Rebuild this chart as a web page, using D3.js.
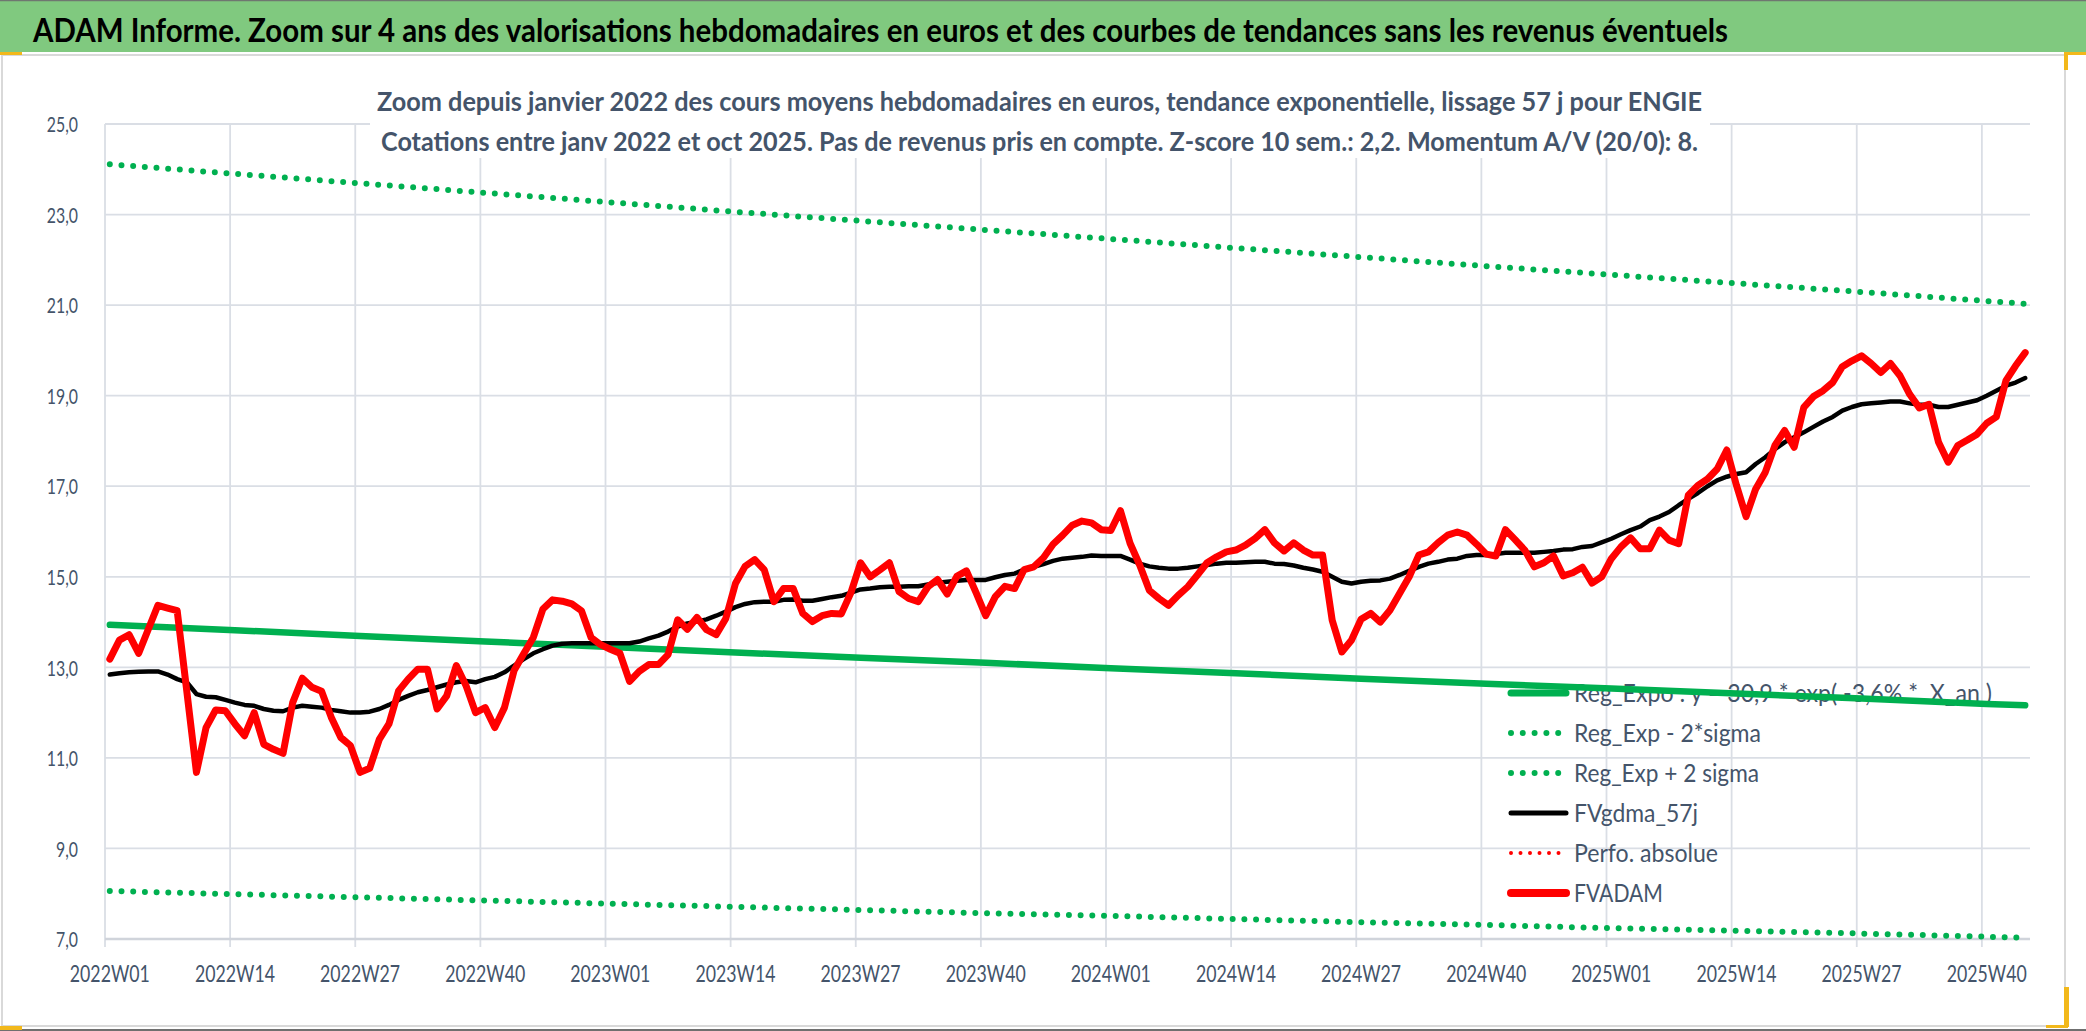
<!DOCTYPE html>
<html><head><meta charset="utf-8">
<script src="https://cdn.jsdelivr.net/npm/d3@7"></script>
<style>html,body{margin:0;padding:0;background:#fff;overflow:hidden}text{white-space:pre}</style>
</head><body><svg id="c" width="2086" height="1031"></svg>
<script>
// ---------- DATA ----------
const years = [2022, 2023, 2024, 2025];
const weeksPerYear = 52;
const nWeeks = 200; // 2022W01 .. 2025W44
const categories = [];
years.forEach(y => { for (let w = 1; w <= weeksPerYear; w++) categories.push(y + "W" + String(w).padStart(2, "0")); });
categories.length = nWeeks;

const fvadam = [13.18,13.6,13.72,13.31,13.84,14.37,14.31,14.25,12.47,10.68,
11.67,12.06,12.04,11.75,11.49,12.0,11.3,11.19,11.1,12.22,
12.76,12.56,12.47,11.9,11.45,11.27,10.68,10.77,11.41,11.75,
12.48,12.74,12.96,12.96,12.08,12.37,13.04,12.6,12.0,12.11,
11.67,12.11,12.93,13.3,13.66,14.29,14.49,14.46,14.4,14.25,
13.66,13.5,13.4,13.31,12.69,12.91,13.06,13.06,13.28,14.05,
13.84,14.1,13.83,13.72,14.08,14.85,15.23,15.38,15.15,14.45,
14.74,14.74,14.19,14.01,14.14,14.19,14.18,14.65,15.31,15.0,
15.15,15.31,14.67,14.52,14.45,14.78,14.94,14.62,15.01,15.13,
14.65,14.14,14.56,14.79,14.74,15.16,15.22,15.42,15.72,15.92,
16.14,16.23,16.19,16.04,16.02,16.46,15.74,15.26,14.7,14.52,
14.37,14.59,14.78,15.04,15.31,15.44,15.55,15.59,15.7,15.85,
16.04,15.75,15.57,15.75,15.59,15.48,15.48,14.04,13.34,13.6,
14.06,14.19,14.0,14.26,14.63,15.0,15.48,15.55,15.75,15.92,
15.99,15.92,15.72,15.5,15.46,16.04,15.82,15.59,15.22,15.31,
15.46,15.02,15.09,15.21,14.86,15.0,15.4,15.66,15.86,15.62,
15.62,16.03,15.81,15.73,16.8,17.02,17.16,17.38,17.8,17.02,
16.33,16.94,17.31,17.9,18.23,17.86,18.74,18.98,19.11,19.29,
19.64,19.77,19.88,19.71,19.51,19.71,19.44,19.03,18.73,18.81,
17.97,17.53,17.9,18.02,18.15,18.39,18.53,19.33,19.66,19.95];

const fvgdma = [12.84,12.87,12.89,12.9,12.91,12.91,12.84,12.74,12.67,12.41,
12.35,12.34,12.28,12.22,12.17,12.15,12.08,12.04,12.03,12.11,
12.15,12.13,12.11,12.06,12.03,12.0,12.0,12.02,12.08,12.17,
12.28,12.37,12.45,12.5,12.56,12.62,12.67,12.7,12.67,12.74,
12.79,12.89,13.04,13.18,13.31,13.4,13.48,13.52,13.53,13.53,
13.53,13.53,13.53,13.53,13.53,13.57,13.64,13.7,13.79,13.9,
13.97,14.01,14.06,14.14,14.23,14.33,14.4,14.44,14.45,14.45,
14.49,14.5,14.47,14.47,14.51,14.55,14.58,14.65,14.72,14.74,
14.77,14.78,14.78,14.79,14.79,14.83,14.87,14.89,14.91,14.93,
14.93,14.93,14.99,15.04,15.07,15.16,15.22,15.28,15.35,15.4,
15.42,15.44,15.47,15.46,15.46,15.46,15.38,15.29,15.23,15.2,
15.18,15.18,15.2,15.23,15.26,15.29,15.31,15.31,15.32,15.33,
15.33,15.29,15.28,15.25,15.2,15.16,15.11,15.0,14.89,14.85,
14.89,14.91,14.92,14.96,15.04,15.13,15.22,15.29,15.33,15.38,
15.4,15.46,15.48,15.48,15.5,15.53,15.53,15.53,15.53,15.55,
15.57,15.6,15.61,15.66,15.68,15.76,15.84,15.94,16.03,16.11,
16.25,16.33,16.43,16.58,16.72,16.85,17.0,17.13,17.21,17.27,
17.31,17.49,17.64,17.82,17.97,18.08,18.19,18.31,18.43,18.53,
18.67,18.75,18.81,18.83,18.85,18.87,18.87,18.83,18.8,18.8,
18.75,18.75,18.8,18.85,18.9,19.0,19.11,19.22,19.29,19.39];

// trend curves read at every 13th week and at the last week
const trendIdx = [0,13,26,39,52,65,78,91,104,117,130,143,156,169,182,195,199];
const regExpo  = [13.94,13.82,13.69,13.57,13.45,13.33,13.21,13.10,12.98,12.87,12.75,12.64,12.53,12.42,12.31,12.19,12.16];
const regPlus2 = [24.11,23.90,23.69,23.48,23.27,23.06,22.86,22.66,22.46,22.26,22.06,21.86,21.67,21.48,21.29,21.09,21.03];
const regMinus2= [8.06,7.99,7.92,7.85,7.78,7.71,7.64,7.57,7.51,7.44,7.37,7.31,7.24,7.18,7.12,7.05,7.03];

const yTicks = [7,9,11,13,15,17,19,21,23,25];
const xTickEvery = 13;

const titleText = "ADAM Informe. Zoom sur 4 ans des valorisations hebdomadaires en euros et des courbes de tendances sans les revenus éventuels";
const subTitle1 = "Zoom depuis janvier 2022 des cours moyens hebdomadaires en euros, tendance exponentielle, lissage 57 j pour ENGIE";
const subTitle2 = "Cotations entre janv 2022 et oct 2025. Pas de revenus pris en compte. Z-score 10 sem.: 2,2. Momentum A/V (20/0): 8.";
const legendLabels = ["Reg_Expo : y = 30,9 * exp( -3,6% *  X_an )", "Reg_Exp - 2*sigma", "Reg_Exp + 2 sigma", "FVgdma_57j", "Perfo. absolue", "FVADAM"];
const legendWidths = [418, 187, 185, 124, 144, 89];

// ---------- DRAW ----------
const svg = d3.select("#c");
const W = 2086, H = 1031;
const FONT = "Lato, 'Liberation Sans', sans-serif";
const TXT = "#44546A";
const GREEN = "#00B050", RED = "#FF0000", GRID = "#DADEE5";

svg.append("rect").attr("x",0).attr("y",0).attr("width",W).attr("height",H).attr("fill","#fff");
// chart area border
svg.append("rect").attr("x",2).attr("y",55).attr("width",2063).attr("height",971)
  .attr("fill","#fff").attr("stroke","#D9D9D9").attr("stroke-width",2);
// banner
svg.append("rect").attr("x",0).attr("y",0).attr("width",W).attr("height",52).attr("fill","#80C97F");
svg.append("line").attr("x1",0).attr("x2",W).attr("y1",0.5).attr("y2",0.5).attr("stroke","#6F7770").attr("stroke-width",1.5);
svg.append("line").attr("x1",0).attr("x2",W).attr("y1",1030).attr("y2",1030).attr("stroke","#6F6F6F").attr("stroke-width",2);
// selection handles
const handles = [[0,52,22,3],[2064,52,22,3],[2064,52,4,18],[2064,987,5,40],[2046,1025,22,3],[0,1026,22,4]];
svg.selectAll("rect.h").data(handles).enter().append("rect").attr("class","h")
  .attr("x",d=>d[0]).attr("y",d=>d[1]).attr("width",d=>d[2]).attr("height",d=>d[3]).attr("fill","#F2B81B");

function fit(sel, w){ sel.attr("textLength", w).attr("lengthAdjust","spacingAndGlyphs"); return sel; }

fit(svg.append("text").attr("x",33).attr("y",42).attr("font-family",FONT).attr("font-weight","bold")
  .attr("font-size",32).attr("fill","#000").text(titleText), 1695);

const L = 105, R = 2030, T = 124, B = 939;
const x = d3.scaleBand().domain(categories).range([L, R]).paddingInner(0).paddingOuter(0);
const cx = i => x(categories[i]) + x.bandwidth()/2;
const y = d3.scaleLinear().domain([7, 25]).range([B, T]);

// horizontal gridlines
const gGrid = svg.append("g");
gGrid.selectAll("line.hg").data(yTicks.filter(v=>v!==7)).enter().append("line")
  .attr("x1",L).attr("x2",R).attr("y1",d=>y(d)).attr("y2",d=>y(d))
  .attr("stroke",GRID).attr("stroke-width",1.8);
// vertical gridlines at band boundaries
const tickCats = categories.filter((c,i)=> i % xTickEvery === 0);
gGrid.selectAll("line.vg").data(tickCats).enter().append("line")
  .attr("x1",d=>x(d)).attr("x2",d=>x(d)).attr("y1",T).attr("y2",B+8)
  .attr("stroke",GRID).attr("stroke-width",1.8);
// x axis line
svg.append("line").attr("x1",L).attr("x2",R).attr("y1",B).attr("y2",B).attr("stroke","#D0D4DB").attr("stroke-width",2.5);

// title box (white) over gridlines
svg.append("rect").attr("x",370).attr("y",70).attr("width",1340).attr("height",88).attr("fill","#fff");
fit(svg.append("text").attr("x",1039.5).attr("y",111).attr("text-anchor","middle").attr("font-family",FONT)
  .attr("font-weight","bold").attr("font-size",27).attr("fill",TXT).text(subTitle1), 1325);
fit(svg.append("text").attr("x",1039.5).attr("y",151).attr("text-anchor","middle").attr("font-family",FONT)
  .attr("font-weight","bold").attr("font-size",27).attr("fill",TXT).text(subTitle2), 1317);

// y axis labels
const yAx = svg.append("g").attr("transform",`translate(${L},0)`)
  .call(d3.axisLeft(y).tickValues(yTicks).tickSize(0).tickPadding(27).tickFormat(d=>d.toFixed(1).replace(".",",")));
yAx.select(".domain").remove();
yAx.selectAll("text").attr("font-family",FONT).attr("font-size",22).attr("fill",TXT).attr("dy","0.35em")
  .each(function(){ const t=d3.select(this); const w=this.getComputedTextLength(); t.attr("textLength", w*0.72).attr("lengthAdjust","spacingAndGlyphs"); });

// x axis labels
const xAx = svg.append("g").attr("transform",`translate(0,${B})`)
  .call(d3.axisBottom(x).tickValues(tickCats).tickSize(0).tickPadding(26));
xAx.select(".domain").remove();
xAx.selectAll("text").attr("font-family",FONT).attr("font-size",24).attr("fill",TXT).attr("dy","0.71em")
  .attr("textLength",80).attr("lengthAdjust","spacingAndGlyphs");

// legend (drawn beneath the series)
const legY = [693,733,773,813,853,893];
const lg = svg.append("g");
const symStyles = [
  {c:GREEN, w:7, dash:null},
  {c:GREEN, w:6, dash:"0 11.8"},
  {c:GREEN, w:6, dash:"0 11.8"},
  {c:"#000", w:5, dash:null},
  {c:RED, w:4, dash:"0 9.5"},
  {c:RED, w:8, dash:null}
];
legendLabels.forEach((lab,i)=>{
  const s = symStyles[i];
  const ln = lg.append("line").attr("x1",1511).attr("x2",1566).attr("y1",legY[i]).attr("y2",legY[i])
    .attr("stroke",s.c).attr("stroke-width",s.w).attr("stroke-linecap","round");
  if (s.dash) ln.attr("stroke-dasharray",s.dash);
  fit(lg.append("text").attr("x",1574).attr("y",legY[i]+9).attr("font-family",FONT).attr("font-size",25)
    .attr("fill",TXT).text(lab), legendWidths[i]);
});

// series
const trendLine = arr => d3.line().x((d,k)=>cx(trendIdx[k])).y(d=>y(d))(arr);
svg.append("path").attr("d",trendLine(regPlus2)).attr("fill","none").attr("stroke",GREEN)
  .attr("stroke-width",6).attr("stroke-linecap","round").attr("stroke-dasharray","0 11.7");
svg.append("path").attr("d",trendLine(regMinus2)).attr("fill","none").attr("stroke",GREEN)
  .attr("stroke-width",6).attr("stroke-linecap","round").attr("stroke-dasharray","0 11.7");
svg.append("path").attr("d",trendLine(regExpo)).attr("fill","none").attr("stroke",GREEN)
  .attr("stroke-width",6.5).attr("stroke-linecap","round");

const wl = d3.line().x((d,i)=>cx(i)).y(d=>y(d));
svg.append("path").attr("d",wl(fvgdma)).attr("fill","none").attr("stroke","#000")
  .attr("stroke-width",4.5).attr("stroke-linejoin","round").attr("stroke-linecap","round");
svg.append("path").attr("d",wl(fvadam)).attr("fill","none").attr("stroke",RED)
  .attr("stroke-width",7).attr("stroke-linejoin","round").attr("stroke-linecap","round");
</script></body></html>
